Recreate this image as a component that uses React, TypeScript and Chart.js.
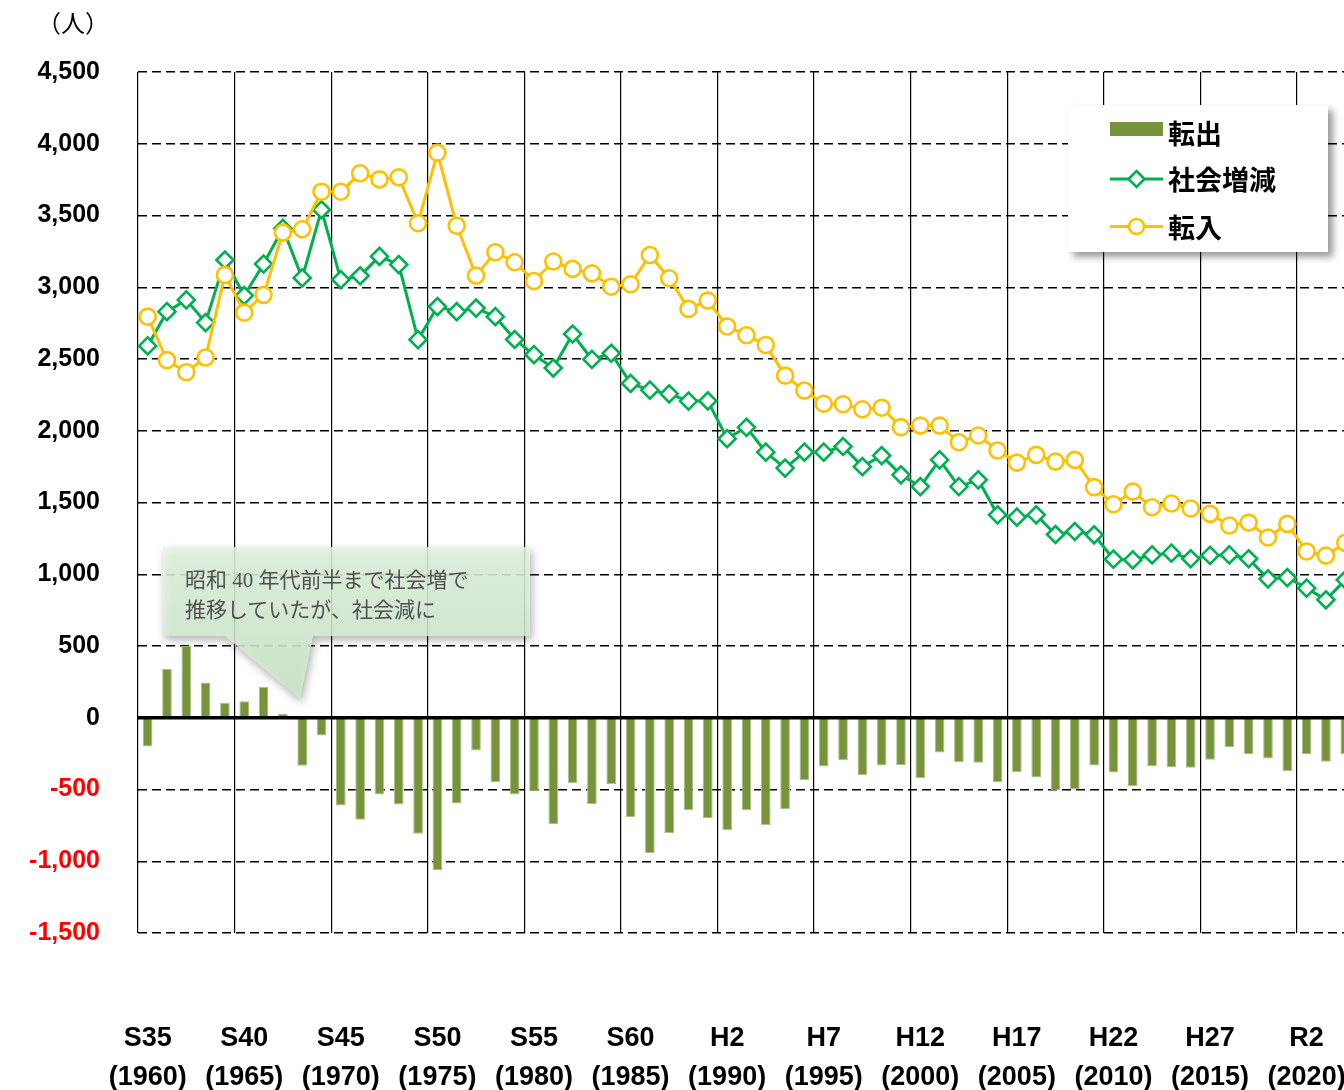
import React, { useEffect, useRef } from "react";
import { Chart, registerables } from "chart.js";

Chart.register(...registerables);

// ---- categories ----
const years = [
  1960, 1961, 1962, 1963, 1964, 1965, 1966, 1967, 1968, 1969,
  1970, 1971, 1972, 1973, 1974, 1975, 1976, 1977, 1978, 1979,
  1980, 1981, 1982, 1983, 1984, 1985, 1986, 1987, 1988, 1989,
  1990, 1991, 1992, 1993, 1994, 1995, 1996, 1997, 1998, 1999,
  2000, 2001, 2002, 2003, 2004, 2005, 2006, 2007, 2008, 2009,
  2010, 2011, 2012, 2013, 2014, 2015, 2016, 2017, 2018, 2019,
  2020, 2021, 2022,
];

// ---- x tick labels ----
const tickYears = [1960, 1965, 1970, 1975, 1980, 1985, 1990, 1995, 2000, 2005, 2010, 2015, 2020];
const eraLabels = ["S35", "S40", "S45", "S50", "S55", "S60", "H2", "H7", "H12", "H17", "H22", "H27", "R2"];

// ---- series ----
const barLabel = "転出";
const barValues = [
  -200, 340, 500, 245, 105, 115, 215, 28, -335, -123,
  -611, -710, -534, -604, -808, -1063, -597, -228, -450, -534,
  -513, -741, -455, -601, -464, -692, -943, -803, -643, -699,
  -782, -645, -747, -638, -435, -340, -296, -401, -333, -331,
  -420, -243, -310, -314, -447, -380, -417, -505, -499, -333,
  -382, -476, -337, -345, -349, -293, -206, -252, -284, -372,
  -255, -307, -255,
];

const socialLabel = "社会増減";
const socialValues = [
  2591, 2830, 2912, 2754, 3190, 2942, 3162, 3410, 3065, 3540,
  3053, 3080, 3215, 3158, 2635, 2865, 2830, 2855, 2795, 2636,
  2530, 2437, 2674, 2497, 2540, 2330, 2283, 2257, 2207, 2208,
  1945, 2024, 1851, 1740, 1851, 1851, 1890, 1750, 1827, 1693,
  1611, 1797, 1611, 1658, 1414, 1398, 1414, 1277, 1298, 1275,
  1105, 1100, 1135, 1147, 1108, 1131, 1135, 1108, 968, 977,
  903, 822, 961,
];

const inLabel = "転入";
const inValues = [
  2795, 2492, 2408, 2510, 3086, 2823, 2947, 3381, 3404, 3666,
  3666, 3794, 3752, 3766, 3446, 3938, 3429, 3081, 3244, 3174,
  3044, 3179, 3128, 3097, 3004, 3021, 3225, 3063, 2849, 2907,
  2727, 2666, 2598, 2384, 2280, 2188, 2185, 2150, 2160, 2025,
  2036, 2036, 1920, 1967, 1862, 1778, 1832, 1785, 1797, 1607,
  1488, 1576, 1467, 1493, 1458, 1421, 1340, 1360, 1256, 1351,
  1159, 1130, 1219,
];

const yMin = -1500;
const yMax = 4500;
const yStep = 500;

const unitLabel = "（人）";
const noteLines = ["昭和 40 年代前半まで社会増で", "推移していたが、社会減に"];

// ---- styles ----
const BAR_COLOR = "#77933C";
const GREEN = "#00B050";
const YELLOW = "#FFC000";
const TICK_FONT = "'Liberation Sans', Arial, sans-serif";
const CJK_FONT = "'Noto Sans CJK JP', 'Noto Sans', sans-serif";

const zeroLinePlugin = {
  id: "zeroLine",
  afterDatasetsDraw(chart: any) {
    const { ctx, chartArea, scales } = chart;
    const y = scales.y.getPixelForValue(0);
    ctx.save();
    ctx.strokeStyle = "#000";
    ctx.lineWidth = 3.5;
    ctx.beginPath();
    ctx.moveTo(chartArea.left, y);
    ctx.lineTo(chartArea.right, y);
    ctx.stroke();
    ctx.restore();
  },
};

export default function App() {
  const ref = useRef<HTMLCanvasElement>(null);

  useEffect(() => {
    if (!ref.current) return;
    const chart = new Chart(ref.current, {
      type: "bar",
      data: {
        labels: years.map(String),
        datasets: [
          {
            type: "line",
            label: inLabel,
            data: inValues,
            borderColor: YELLOW,
            backgroundColor: "#FFFFFF",
            borderWidth: 3,
            pointStyle: "circle",
            pointRadius: 8,
            pointBorderWidth: 2.6,
            pointBackgroundColor: "#FFFFFF",
            pointBorderColor: YELLOW,
            tension: 0,
            order: 0,
          } as any,
          {
            type: "line",
            label: socialLabel,
            data: socialValues,
            borderColor: GREEN,
            backgroundColor: "#FFFFFF",
            borderWidth: 3,
            pointStyle: "rectRot",
            pointRadius: 8.5,
            pointBorderWidth: 2.6,
            pointBackgroundColor: "#FFFFFF",
            pointBorderColor: GREEN,
            tension: 0,
            order: 1,
          } as any,
          {
            type: "bar",
            label: barLabel,
            data: barValues,
            backgroundColor: BAR_COLOR,
            borderColor: "#a9c27c",
            borderWidth: 1,
            barPercentage: 0.5,
            categoryPercentage: 1,
            order: 2,
          } as any,
        ],
      },
      options: {
        animation: false,
        responsive: false,
        devicePixelRatio: 1,
        layout: { padding: { top: 72, left: 0, right: 0, bottom: 0 } },
        plugins: {
          legend: { display: false },
          tooltip: { enabled: false },
        },
        scales: {
          x: {
            offset: true,
            border: { display: false },
            grid: {
              offset: true,
              drawTicks: false,
              lineWidth: 1.2,
              color: (ctx: any) => (ctx.index % 5 === 0 ? "#000" : "rgba(0,0,0,0)"),
            },
            ticks: {
              autoSkip: false,
              maxRotation: 0,
              minRotation: 0,
              padding: 86,
              color: "#000",
              font: { family: TICK_FONT, size: 27, weight: "bold", lineHeight: 1.45 },
              callback: (_v: any, idx: number) => {
                const y = years[idx];
                const k = tickYears.indexOf(y);
                return k >= 0 ? [eraLabels[k], `(${y})`] : "";
              },
            },
            afterFit: (scale: any) => {
              scale.height = 157;
              scale.paddingLeft = 0;
              scale.paddingRight = 0;
            },
          },
          y: {
            min: yMin,
            max: yMax,
            border: { display: false, dash: [9, 5] },
            grid: {
              drawTicks: false,
              lineWidth: 1.5,
              color: (ctx: any) => (ctx.tick && ctx.tick.value === 0 ? "rgba(0,0,0,0)" : "#000"),
            },
            ticks: {
              stepSize: yStep,
              padding: 38,
              font: { family: TICK_FONT, size: 25, weight: "bold" },
              color: (ctx: any) => (ctx.tick && ctx.tick.value < 0 ? "#FF0000" : "#000"),
              callback: (v: any) => Number(v).toLocaleString("en-US"),
            },
            afterFit: (scale: any) => {
              scale.width = 138;
              scale.paddingTop = 0;
              scale.paddingBottom = 0;
            },
          },
        },
      } as any,
      plugins: [zeroLinePlugin],
    });
    return () => chart.destroy();
  }, []);

  return (
    <div
      style={{
        position: "fixed",
        left: 0,
        top: 0,
        width: 1344,
        height: 1090,
        overflow: "hidden",
        background: "#fff",
      }}
    >
      <canvas
        ref={ref}
        width={1366}
        height={1090}
        style={{ position: "absolute", left: 0, top: 0, width: 1366, height: 1090 }}
      />

      {/* unit label */}
      <div
        style={{
          position: "absolute",
          left: 37,
          top: 8,
          fontFamily: CJK_FONT,
          fontSize: 24,
          lineHeight: "28px",
          color: "#000",
          whiteSpace: "nowrap",
        }}
      >
        {unitLabel}
      </div>

      {/* callout */}
      <svg
        width={400}
        height={190}
        style={{
          position: "absolute",
          left: 150,
          top: 535,
          overflow: "visible",
          filter: "drop-shadow(2px 4px 4px rgba(0,0,0,0.35))",
        }}
      >
        <defs>
          <linearGradient id="calloutFill" x1="0" y1="0" x2="0" y2="1">
            <stop offset="0" stopColor="#e4f7e2" />
            <stop offset="1" stopColor="#cbeacb" />
          </linearGradient>
        </defs>
        <path
          d="M13,12 H380 V101 H163 L150,164 L75,101 H13 Z"
          fill="url(#calloutFill)"
          fillOpacity={0.85}
        />
      </svg>
      <div
        style={{
          position: "absolute",
          left: 185,
          top: 565,
          fontFamily: "'Liberation Serif', 'Noto Sans CJK JP', serif",
          fontSize: 21,
          lineHeight: "30px",
          color: "#505050",
          whiteSpace: "nowrap",
        }}
      >
        {noteLines[0]}
        <br />
        {noteLines[1]}
      </div>

      {/* legend */}
      <div
        style={{
          position: "absolute",
          left: 1068,
          top: 105,
          width: 260,
          height: 147,
          background: "#fff",
          boxShadow: "5px 5px 7px rgba(0,0,0,0.4)",
        }}
      >
        <svg width={100} height={147} style={{ position: "absolute", left: 0, top: 0 }}>
          <rect x={42} y={17} width={53} height={14} fill={BAR_COLOR} />
          <line x1={42} y1={74} x2={95} y2={74} stroke={GREEN} strokeWidth={3} />
          <polygon
            points="68.5,66 76.5,74 68.5,82 60.5,74"
            fill="#fff"
            stroke={GREEN}
            strokeWidth={2.6}
          />
          <line x1={42} y1={121.5} x2={95} y2={121.5} stroke={YELLOW} strokeWidth={3} />
          <circle cx={68.5} cy={121.5} r={7.5} fill="#fff" stroke={YELLOW} strokeWidth={2.6} />
        </svg>
        {[barLabel, socialLabel, inLabel].map((t, i) => (
          <div
            key={t}
            style={{
              position: "absolute",
              left: 100,
              top: [27.7, 74.3, 121.7][i] - 17,
              height: 34,
              lineHeight: "34px",
              fontFamily: CJK_FONT,
              fontWeight: "bold",
              fontSize: 27,
              color: "#000",
              whiteSpace: "nowrap",
            }}
          >
            {t}
          </div>
        ))}
      </div>
    </div>
  );
}
